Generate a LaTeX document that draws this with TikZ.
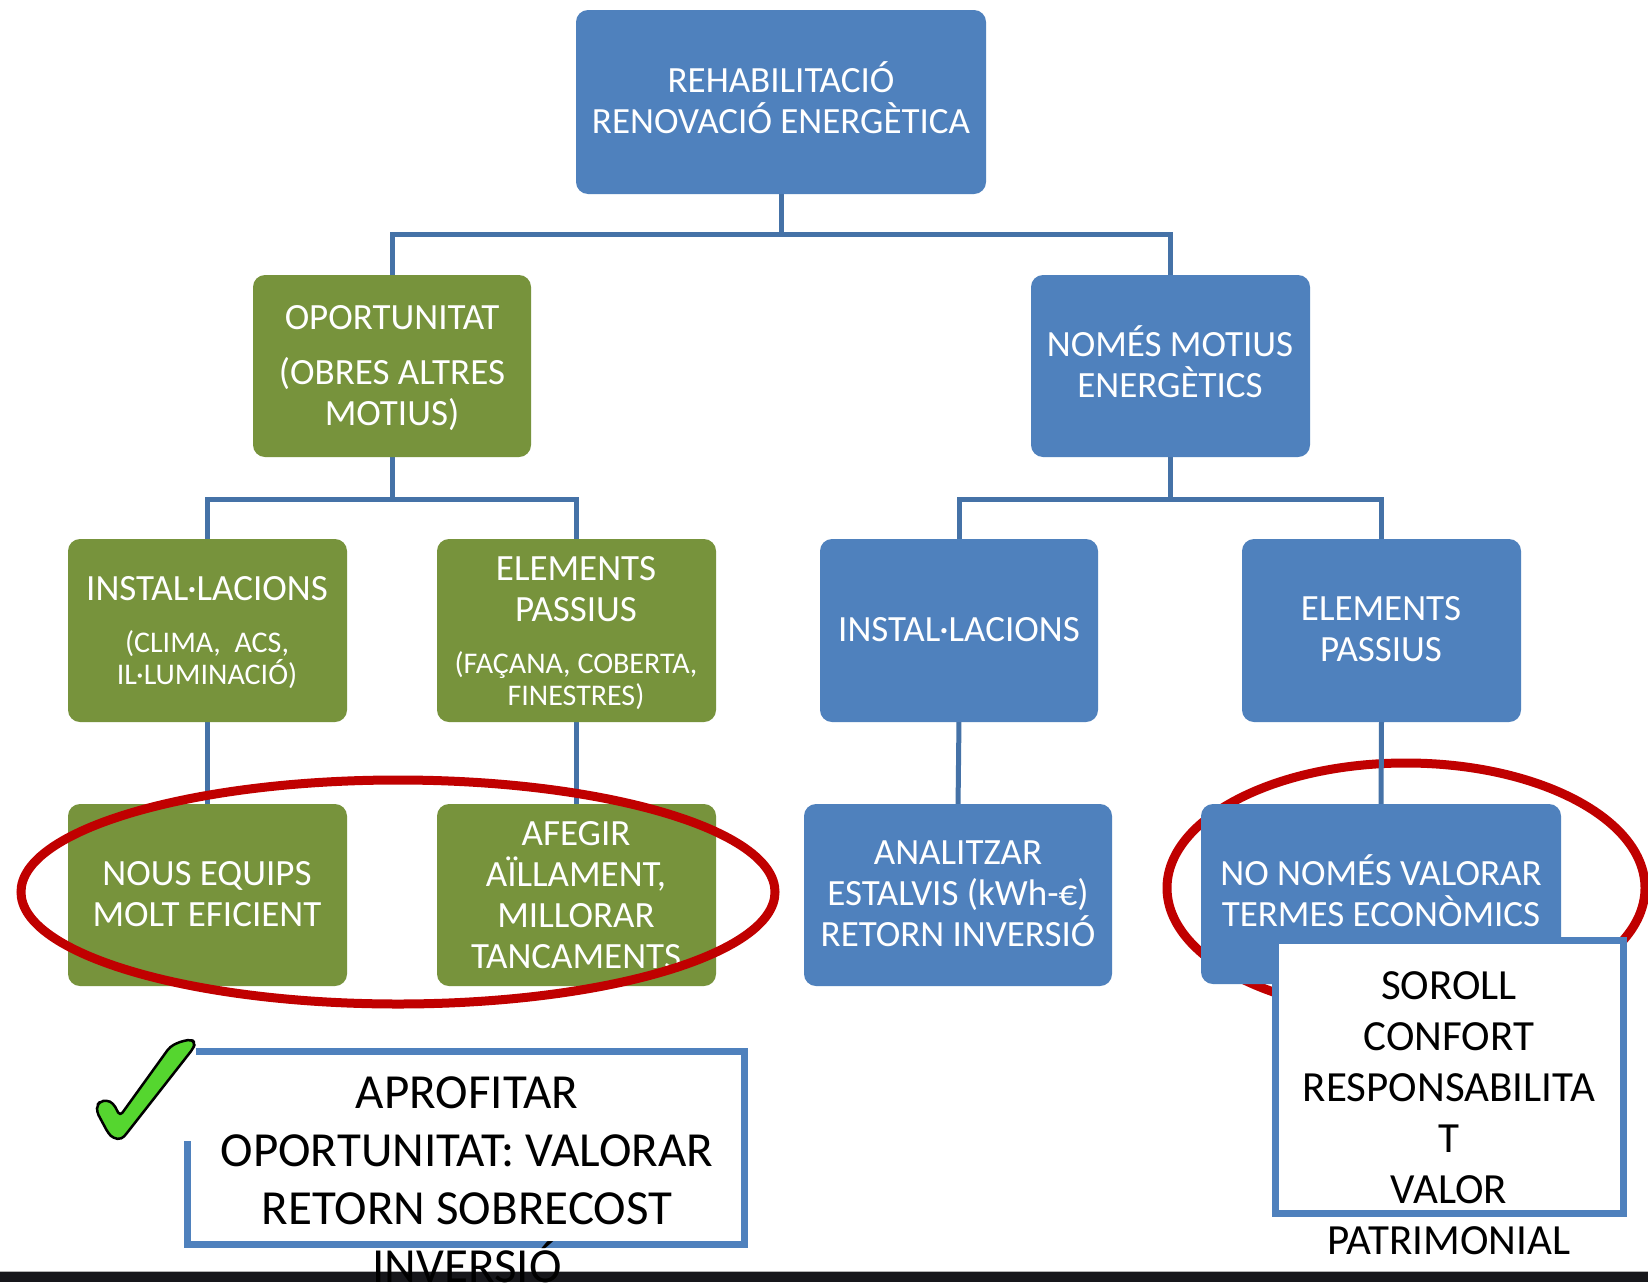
\documentclass[tikz,border=0pt]{standalone}
\usepackage{fontspec}
\setmainfont{Carlito}
\usetikzlibrary{calc}
\definecolor{obBlue}{RGB}{79,129,189}
\definecolor{obGreen}{RGB}{119,147,60}
\definecolor{connCol}{RGB}{69,114,167}
\definecolor{ellRed}{RGB}{192,0,0}
\definecolor{checkGreen}{RGB}{85,214,47}
\definecolor{bandCol}{RGB}{23,23,27}
\pgfdeclarelayer{background}
\pgfsetlayers{background,main}
\tikzset{
  boxbase/.style={rounded corners=12pt, draw=none, inner sep=0pt},
  bluebox/.style={boxbase, fill=obBlue},
  greenbox/.style={boxbase, fill=obGreen},
  maintext/.style={text=white, align=center, inner sep=0pt, font=\fontsize{37}{41}\selectfont},
  subtext/.style={text=white, align=center, inner sep=0pt, font=\fontsize{30}{32}\selectfont},
  conn/.style={draw=connCol, line width=5pt},
  ellipseline/.style={draw=ellRed, line width=9pt},
  whitebox/.style={draw=obBlue, line width=7pt, fill=white},
}
\begin{document}
\begin{tikzpicture}[x=1pt,y=-1pt]
\useasboundingbox (0,0) rectangle (1648,1282);

% boxes
\path[bluebox] (576,10) rectangle (986,194);
\node[inner sep=0pt,minimum width=410pt,minimum height=184pt] (top) at (781,102) {};
\node[maintext] (topt) at (781,98) {REHABILITACIÓ\\RENOVACIÓ ENERGÈTICA};

\path[greenbox] (253,275) rectangle (531,457);
\node[inner sep=0pt,minimum width=278pt,minimum height=182pt] (opp) at (392,366) {};
\node[maintext] (oppt1) at (392,317.5) {OPORTUNITAT};
\node[maintext] (oppt2) at (392,394.5) {(OBRES ALTRES\\MOTIUS)};

\path[bluebox] (1031,275) rectangle (1310,457);
\node[inner sep=0pt,minimum width=279pt,minimum height=182pt] (nom) at (1170.5,366) {};
\node[maintext] (nomt) at (1170,362) {NOMÉS MOTIUS\\ENERGÈTICS};

\path[greenbox] (68,539) rectangle (347,722);
\node[inner sep=0pt,minimum width=279pt,minimum height=183pt] (ig) at (207.5,630.5) {};
\node[maintext] (igt1) at (207,589) {INSTAL·LACIONS};
\node[subtext] (igt2) at (207,660) {(CLIMA,\ \ ACS,\\IL·LUMINACIÓ)};

\path[greenbox] (437,539) rectangle (716,722);
\node[inner sep=0pt,minimum width=279pt,minimum height=183pt] (eg) at (576.5,630.5) {};
\node[maintext] (egt1) at (576,589) {ELEMENTS\\PASSIUS};
\node[subtext] (egt2) at (576,681) {(FAÇANA, COBERTA,\\FINESTRES)};

\path[bluebox] (820,539) rectangle (1098,722);
\node[inner sep=0pt,minimum width=278pt,minimum height=183pt] (ib) at (959,630.5) {};
\node[maintext] (ibt) at (959,630) {INSTAL·LACIONS};

\path[bluebox] (1242,539) rectangle (1521,722);
\node[inner sep=0pt,minimum width=279pt,minimum height=183pt] (eb) at (1381.5,630.5) {};
\node[maintext] (ebt) at (1381,629) {ELEMENTS\\PASSIUS};

\path[greenbox] (68,804) rectangle (347,986);
\node[inner sep=0pt,minimum width=279pt,minimum height=182pt] (ng) at (207.5,895) {};
\node[maintext] (ngt) at (207,894) {NOUS EQUIPS\\MOLT EFICIENT};

\path[greenbox] (437,804) rectangle (716,986);
\node[inner sep=0pt,minimum width=279pt,minimum height=182pt] (ag) at (576.5,895) {};
\node[maintext] (agt) at (576,895) {AFEGIR\\AÏLLAMENT,\\MILLORAR\\TANCAMENTS};

\path[bluebox] (804,804) rectangle (1112,986);
\node[inner sep=0pt,minimum width=308pt,minimum height=182pt] (an) at (958,895) {};
\node[maintext] (ant) at (958,894) {ANALITZAR\\ESTALVIS (kWh-€)\\RETORN INVERSIÓ};

\path[bluebox] (1201,804) rectangle (1561,984);
\node[inner sep=0pt,minimum width=360pt,minimum height=180pt] (nn) at (1381,894) {};
\node[maintext] (nnt) at (1381,891) {NO NOMÉS VALORAR\\TERMES ECONÒMICS};

% background: white ground, right ellipse and connectors
\begin{pgfonlayer}{background}
\fill[white] (0,0) rectangle (1648,1282);
\draw[ellipseline] (1406,888) ellipse [x radius=239pt, y radius=125pt];
\draw[conn] (top.south) -- ++(0,40) -| (opp.north);
\draw[conn] (top.south) -- ++(0,40) -| (nom.north);
\draw[conn] (opp.south) -- ++(0,42) -| ([yshift=-6pt]ig.north);
\draw[conn] (opp.south) -- ++(0,42) -| ([yshift=-6pt]eg.north);
\draw[conn] (nom.south) -- ++(0,42) -| ([yshift=-6pt]ib.north);
\draw[conn] (nom.south) -- ++(0,42) -| ([yshift=-6pt]eb.north);
\draw[conn] ([yshift=3pt]ig.south) -- ([yshift=-5pt]ng.north);
\draw[conn] ([yshift=3pt]eg.south) -- ([yshift=-5pt]ag.north);
\draw[conn] ([yshift=3pt]ib.south) -- ([yshift=-5pt]an.north);
\draw[conn] ([yshift=3pt]eb.south) -- ([yshift=-5pt]nn.north);
\end{pgfonlayer}

% left ellipse over the green boxes
\draw[ellipseline] (398,892) ellipse [x radius=377pt, y radius=112pt];

% bottom band
\fill[bandCol] (0,1271) rectangle (1648,1282);
\draw[gray!60, line width=1pt] (0,1271) -- (1648,1271);

% right white box
\draw[whitebox] (1275.5,940.5) rectangle (1623.5,1213.5);
\node[align=center, inner sep=0pt, font=\fontsize{43}{51}\selectfont] (rbt) at (1449,1113)
  {SOROLL\\CONFORT\\RESPONSABILITA\\T\\VALOR\\PATRIMONIAL};

% bottom-left white box
\draw[whitebox] (187.5,1051.5) rectangle (744.5,1244.5);
\node[align=center, inner sep=0pt, font=\fontsize{49}{58}\selectfont] (lbt) at (467,1180)
  {APROFITAR\\OPORTUNITAT: VALORAR\\RETORN SOBRECOST\\INVERSIÓ};

% check mark with its white ground
\fill[white] (84,1036) rectangle (196,1141);
\draw[fill=checkGreen, draw=black, line width=2.5pt, rounded corners=4pt, line join=round]
  (100,1101.7) -- (106.7,1100) -- (113.3,1103.3) -- (120,1116) -- (170,1046.7)
  -- (180,1041.7) -- (191.7,1039.3) -- (195,1043.3) -- (193.3,1048.3)
  -- (126.7,1133.3) -- (121.7,1139.3) -- (113.3,1138.3) -- (108.3,1133.3)
  -- (96.7,1111.7) -- (97.3,1105) -- cycle;
\end{tikzpicture}
\end{document}
